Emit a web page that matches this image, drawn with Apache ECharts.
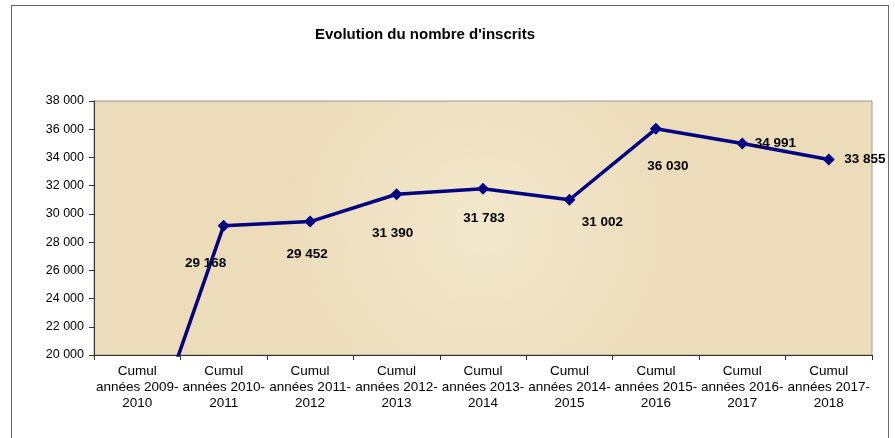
<!DOCTYPE html>
<html>
<head>
<meta charset="utf-8">
<script src="https://cdn.jsdelivr.net/npm/echarts@6/dist/echarts.min.js"></script>
<style>
  html, body { margin: 0; padding: 0; background: #fff; }
  #frame { position: absolute; left: 11px; top: 5px; width: 876px; height: 460px;
           border: 1px solid #666; border-bottom: none; }
  #chart { position: absolute; left: 0; top: 0; width: 895px; height: 438px; }
</style>
</head>
<body>
<div id="frame"></div>
<div id="chart"></div>
<script>
  const categories = [
    'Cumul\nannées 2009-\n2010',
    'Cumul\nannées 2010-\n2011',
    'Cumul\nannées 2011-\n2012',
    'Cumul\nannées 2012-\n2013',
    'Cumul\nannées 2013-\n2014',
    'Cumul\nannées 2014-\n2015',
    'Cumul\nannées 2015-\n2016',
    'Cumul\nannées 2016-\n2017',
    'Cumul\nannées 2017-\n2018',
  ]
  // first value lies below the axis minimum, only its slope is visible
  const inscrits = [11600, 29168, 29452, 31390, 31783, 31002, 36030, 34991, 33855]

  // label offsets relative to each point, as placed in the original
  const labelOffsets = [null, [-18, 38], [-3, 33], [-4, 39], [1, 30], [33, 23], [12, 37], [33, 0], [36, 0]]

  const fmt = v => String(v).replace(/\B(?=(\d{3})+(?!\d))/g, ' ')

  const chart = echarts.init(document.getElementById('chart'))
  chart.setOption({
    animation: false,
    textStyle: { fontFamily: 'Liberation Sans, Arial, sans-serif' },
    title: {
      text: "Evolution du nombre d'inscrits",
      left: 420,
      textAlign: 'center',
      top: 22,
      textStyle: { fontSize: 15, fontWeight: 'bold', color: '#000', fontFamily: 'Liberation Sans, Arial, sans-serif' },
    },
    grid: {
      left: 94,
      right: 23,
      top: 101,
      bottom: 83,
      show: true,
      backgroundColor: {
        type: 'radial', x: 0.5, y: 0.5, r: 0.8,
        colorStops: [
          { offset: 0, color: '#f3e8cd' },
          { offset: 1, color: '#ecdcba' },
        ],
      },
      borderColor: '#9a9a9a',
      borderWidth: 1,
    },
    xAxis: {
      type: 'category',
      data: categories,
      boundaryGap: true,
      axisLine: { lineStyle: { color: '#333', width: 1 } },
      axisTick: { show: true, length: 5, lineStyle: { color: '#333' } },
      axisLabel: {
        color: '#000',
        fontSize: 13.5,
        lineHeight: 16,
        margin: 8,
        interval: 0,
      },
    },
    yAxis: {
      type: 'value',
      min: 20000,
      max: 38000,
      interval: 2000,
      splitLine: { show: false },
      axisLine: { show: true, lineStyle: { color: '#333', width: 1 } },
      axisTick: { show: true, length: 5, lineStyle: { color: '#333' } },
      axisLabel: { color: '#000', fontSize: 12.5, margin: 10, formatter: fmt },
    },
    series: [
      {
        type: 'line',
        data: inscrits.map((v, i) => ({
          value: v,
          label: labelOffsets[i]
            ? { show: true, position: 'inside', offset: labelOffsets[i] }
            : { show: false },
        })),
        clip: true,
        symbol: 'diamond',
        symbolSize: 12,
        itemStyle: { color: '#000080' },
        lineStyle: { color: '#000080', width: 3.5 },
        label: {
          color: '#000',
          fontSize: 13.5,
          fontWeight: 'bold',
          formatter: p => fmt(p.value),
        },
      },
    ],
  })
</script>
</body>
</html>
